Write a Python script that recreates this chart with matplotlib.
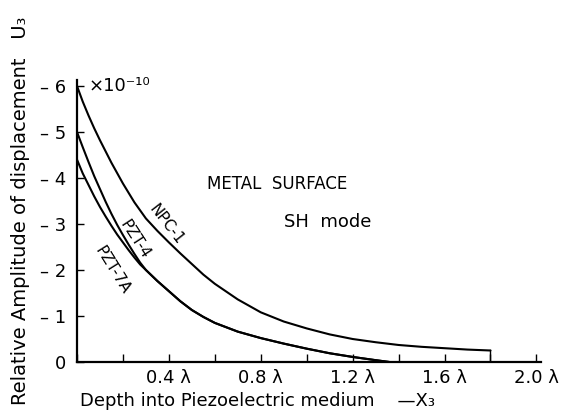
import numpy as np
import matplotlib.pyplot as plt
from matplotlib.ticker import MultipleLocator

# depth in wavelengths, amplitude in units of 1e-10
x_npc = [0, 0.025, 0.05, 0.075, 0.1, 0.15, 0.2, 0.25, 0.3, 0.35, 0.4, 0.45, 0.5,
         0.55, 0.6, 0.7, 0.8, 0.9, 1.0, 1.1, 1.2, 1.3, 1.4, 1.5, 1.6, 1.7, 1.8]
y_npc = [6.0, 5.66, 5.36, 5.08, 4.82, 4.33, 3.88, 3.47, 3.12, 2.85, 2.6, 2.36, 2.13,
         1.9, 1.7, 1.36, 1.08, 0.88, 0.73, 0.6, 0.5, 0.43, 0.37, 0.33, 0.3, 0.27, 0.25]

x_pzt4 = [0, 0.025, 0.05, 0.075, 0.1, 0.125, 0.15, 0.175, 0.2, 0.225, 0.25, 0.275,
          0.3, 0.35, 0.4, 0.45, 0.5, 0.55, 0.6, 0.7, 0.8, 0.9, 1.0, 1.1, 1.2, 1.3, 1.36]
y_pzt4 = [5.0, 4.67, 4.35, 4.04, 3.76, 3.48, 3.22, 2.98, 2.76, 2.55, 2.35, 2.16,
          2.0, 1.76, 1.54, 1.32, 1.13, 0.98, 0.85, 0.66, 0.52, 0.4, 0.29, 0.19, 0.11, 0.04, 0.0]

x_pzt7a = [0, 0.025, 0.05, 0.075, 0.1, 0.125, 0.15, 0.175, 0.2, 0.225, 0.25, 0.275,
           0.3, 0.35, 0.4, 0.45, 0.5, 0.55, 0.6, 0.7, 0.8, 0.9, 1.0, 1.1, 1.2, 1.3, 1.36]
y_pzt7a = [4.4, 4.1, 3.85, 3.6, 3.37, 3.16, 2.96, 2.77, 2.6, 2.43, 2.27, 2.12,
           2.0, 1.76, 1.54, 1.32, 1.13, 0.98, 0.85, 0.66, 0.52, 0.4, 0.29, 0.19, 0.11, 0.04, 0.0]

xtick_vals = [0.4, 0.8, 1.2, 1.6, 2.0]
xtick_labels = ['0.4 λ', '0.8 λ', '1.2 λ', '1.6 λ', '2.0 λ']
ytick_vals = [0, 1, 2, 3, 4, 5, 6]
ytick_labels = ['0', '– 1', '– 2', '– 3', '– 4', '– 5', '– 6']

W, H = 572, 412
fig = plt.figure(figsize=(W / 100, H / 100), dpi=100)
ax = fig.add_axes([77 / W, 50 / H, 464 / W, 282 / H])

for xs, ys in [(x_npc, y_npc), (x_pzt4, y_pzt4), (x_pzt7a, y_pzt7a)]:
    ax.plot(xs, ys, color='black', lw=1.5, solid_capstyle='round', solid_joinstyle='round')

ax.set_xlim(0, 2.02)
ax.set_ylim(0, 6.13)

for s in ['top', 'right']:
    ax.spines[s].set_visible(False)
for s in ['left', 'bottom']:
    ax.spines[s].set_linewidth(1.6)

ax.set_xticks(xtick_vals)
ax.set_xticklabels(xtick_labels)
ax.xaxis.set_minor_locator(MultipleLocator(0.2))
ax.set_yticks(ytick_vals)
ax.set_yticklabels(ytick_labels)
ax.tick_params(axis='x', which='both', direction='in', length=6, width=1, labelsize=13, pad=5)
ax.tick_params(axis='y', direction='in', length=5, width=1, labelsize=13, pad=8)

# small end tick on NPC-1 curve
ax.plot([1.8, 1.8], [0.0, y_npc[-1]], color='black', lw=1)

ax.text(0.05, 6.0, '×10⁻¹⁰', fontsize=13, va='center', ha='left')
ax.text(0.39, 2.99, 'NPC-1', fontsize=11, rotation=-52, ha='center', va='center')
ax.text(0.25, 2.67, 'PZT-4', fontsize=11, rotation=-57, ha='center', va='center')
ax.text(0.155, 2.0, 'PZT-7A', fontsize=11, rotation=-58, ha='center', va='center')
ax.text(0.87, 3.88, 'METAL  SURFACE', fontsize=12, ha='center', va='center')
ax.text(1.09, 3.04, 'SH  mode', fontsize=13, ha='center', va='center')

fig.text(258 / W, 1 - 401 / H, 'Depth into Piezoelectric medium    —X₃',
         fontsize=13, ha='center', va='center')
fig.text(21 / W, 1 - 211 / H, 'Relative Amplitude of displacement   U₃',
         fontsize=14, ha='center', va='center', rotation=90)

fig.savefig('out.png', dpi=100)
